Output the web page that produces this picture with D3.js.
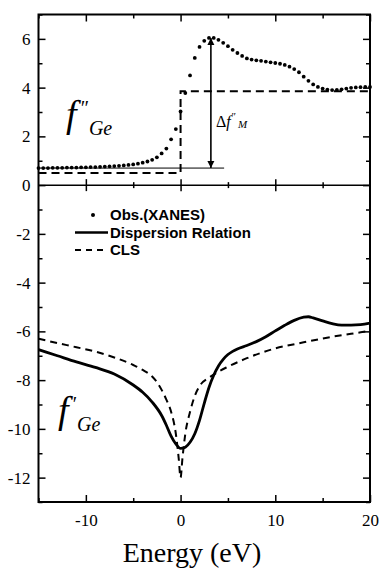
<!DOCTYPE html>
<html>
<head>
<meta charset="utf-8">
<script src="https://cdn.jsdelivr.net/npm/d3@7"></script>
</head>
<body style="margin:0; background:#fff">
<div id="chart"></div>
<script>
// observed f'' (XANES), 0.5 eV steps
obsE = [-15,-14.5,-14,-13.5,-13,-12.5,-12,-11.5,-11,-10.5,-10,-9.5,-9,-8.5,-8,-7.5,-7,-6.5,-6,-5.5,-5,-4.5,-4,-3.5,-3,-2.5,-2,-1.5,-1,-0.5,
        0,0.5,1,1.5,2,2.5,3,3.5,4,4.5,5,5.5,6,6.5,7,7.5,8,8.5,9,9.5,10,10.5,11,11.5,12,12.5,13,13.5,14,14.5,15,15.5,16,16.5,17,17.5,18,18.5,19,19.5,20];
obsF2 = [0.70,0.70,0.70,0.71,0.71,0.71,0.72,0.72,0.72,0.73,0.73,0.74,0.74,0.75,0.76,0.77,0.78,0.79,0.81,0.83,0.85,0.88,0.92,0.97,1.04,1.14,1.30,1.50,1.88,2.30,
         3.02,3.78,4.50,5.22,5.67,5.92,6.04,6.04,5.96,5.84,5.70,5.55,5.42,5.30,5.20,5.15,5.12,5.10,5.07,5.04,5.01,4.98,4.93,4.86,4.76,4.63,4.45,4.28,4.13,4.03,3.96,3.92,3.90,3.91,3.93,3.96,3.99,4.01,4.02,4.03,4.03];

// CLS f'' step
clsF2E = [-15, 0, 0, 20];
clsF2 = [0.5, 0.5, 3.85, 3.85];

// f' from dispersion relation
dispE = [-15,-13,-11,-9,-7,-5,-4,-3,-2,-1.5,-1,-0.5,0,0.5,1,1.5,2,2.5,3,3.5,4,4.5,5,5.5,6,7,8,9,10,11,12,13,13.5,14,15,16,17,18,19,20];
dispF1 = [-6.75,-7.0,-7.25,-7.48,-7.75,-8.2,-8.5,-8.9,-9.45,-9.85,-10.3,-10.62,-10.8,-10.75,-10.55,-10.2,-9.65,-8.95,-8.3,-7.8,-7.42,-7.15,-6.95,-6.82,-6.72,-6.58,-6.42,-6.22,-5.98,-5.75,-5.55,-5.42,-5.4,-5.45,-5.57,-5.68,-5.74,-5.74,-5.72,-5.66];

// f' CLS
clsE = [-15,-13,-11,-9,-7,-5,-4,-3,-2.5,-2,-1.5,-1,-0.5,-0.2,0,0.2,0.5,1,1.5,2,3,4,5,7,10,13,16,18,20];
clsF1 = [-6.3,-6.48,-6.65,-6.83,-7.07,-7.38,-7.58,-7.85,-8.08,-8.4,-8.8,-9.3,-10.2,-11.2,-12.0,-11.2,-10.2,-9.3,-8.65,-8.25,-7.9,-7.65,-7.45,-7.1,-6.7,-6.45,-6.22,-6.1,-5.98];

xMajor = [-10, 0, 10, 20];
xMinor = [-15, -5, 5, 15];
yMajor = [6, 4, 2, 0, -2, -4, -6, -8, -10, -12];
yMinor = [7, 5, 3, 1, -1, -3, -5, -7, -9, -11, -13];

deltaE = 3.2;       // position of the Δf''M arrow
deltaTop = 6.04;
deltaBase = 0.7;
baseEnd = 4.6;

legendItems = ["Obs.(XANES)", "Dispersion Relation", "CLS"];

width = 383;
height = 568;
SERIF = "Liberation Serif";
SANS = "Liberation Sans";

x = d3.scaleLinear().domain([-15, 20]).range([38.5, 370]);
y = d3.scaleLinear().domain([-13, 7]).range([502, 14.5]);

svg = d3.select("#chart").append("svg")
  .attr("width", width)
  .attr("height", height);

svg.append("defs").append("marker")
  .attr("id", "ah")
  .attr("viewBox", "0 0 10 10")
  .attr("refX", 10).attr("refY", 5)
  .attr("markerWidth", 7).attr("markerHeight", 8)
  .attr("markerUnits", "userSpaceOnUse")
  .attr("orient", "auto-start-reverse")
  .append("path")
  .attr("d", "M0,0 L10,5 L0,10 Z")
  .attr("fill", "#000");

// ---- axes (ticks inside on all four sides)
function tickAxis(axis, pos, size, labels) {
  const g = svg.append("g").attr("transform", pos)
    .call(axis.tickSize(size).tickFormat(labels ? (d => String(d)) : ""));
  g.select(".domain").remove();
  g.selectAll("line").attr("stroke", "#000").attr("stroke-width", 1.5);
  g.selectAll("text")
    .style("font-family", SERIF)
    .style("font-size", "17px")
    .attr("fill", "#000");
  return g;
}

tickAxis(d3.axisBottom(x).tickValues(xMajor).tickPadding(12), `translate(0,${y(-13)})`, -7, true);
tickAxis(d3.axisBottom(x).tickValues(xMinor), `translate(0,${y(-13)})`, -4, false);
tickAxis(d3.axisTop(x).tickValues(xMajor), `translate(0,${y(7)})`, -7, false);
tickAxis(d3.axisTop(x).tickValues(xMinor), `translate(0,${y(7)})`, -4, false);
tickAxis(d3.axisLeft(y).tickValues(yMajor).tickPadding(8), `translate(${x(-15)},0)`, -7, true);
tickAxis(d3.axisLeft(y).tickValues(yMinor), `translate(${x(-15)},0)`, -4, false);
tickAxis(d3.axisRight(y).tickValues(yMajor), `translate(${x(20)},0)`, -7, false);
tickAxis(d3.axisRight(y).tickValues(yMinor), `translate(${x(20)},0)`, -4, false);

// ticks crossing the zero line
tickAxis(d3.axisBottom(x).tickValues(xMajor.slice(0, 3)), `translate(0,${y(0)})`, 6, false);
tickAxis(d3.axisTop(x).tickValues(xMajor.slice(0, 3)), `translate(0,${y(0)})`, 6, false);
tickAxis(d3.axisBottom(x).tickValues(xMinor.slice(1)), `translate(0,${y(0)})`, 3, false);
tickAxis(d3.axisTop(x).tickValues(xMinor.slice(1)), `translate(0,${y(0)})`, 3, false);

// frame and separator
svg.append("rect")
  .attr("x", x(-15)).attr("y", y(7))
  .attr("width", x(20) - x(-15)).attr("height", y(-13) - y(7))
  .attr("fill", "none").attr("stroke", "#000").attr("stroke-width", 2);

svg.append("line")
  .attr("x1", x(-15)).attr("x2", x(20))
  .attr("y1", y(0)).attr("y2", y(0))
  .attr("stroke", "#000").attr("stroke-width", 1.5);

// ---- top panel: f''
line = d3.line().x(d => x(d[0])).y(d => y(d[1]));
smooth = d3.line().x(d => x(d[0])).y(d => y(d[1])).curve(d3.curveMonotoneX);

svg.append("path")
  .datum(d3.zip(clsF2E, clsF2))
  .attr("d", line)
  .attr("fill", "none").attr("stroke", "#000")
  .attr("stroke-width", 2).attr("stroke-dasharray", "8,5");

svg.append("line")
  .attr("x1", x(-15)).attr("x2", x(baseEnd))
  .attr("y1", y(deltaBase)).attr("y2", y(deltaBase))
  .attr("stroke", "#000").attr("stroke-width", 1);

svg.append("line")
  .attr("x1", x(deltaE)).attr("x2", x(deltaE))
  .attr("y1", y(deltaBase)).attr("y2", y(deltaTop))
  .attr("stroke", "#000").attr("stroke-width", 1.6)
  .attr("marker-start", "url(#ah)")
  .attr("marker-end", "url(#ah)");

svg.append("g").selectAll("circle")
  .data(d3.zip(obsE, obsF2))
  .join("circle")
  .attr("cx", d => x(d[0]))
  .attr("cy", d => y(d[1]))
  .attr("r", 1.9)
  .attr("fill", "#000");

// ---- bottom panel: f'
svg.append("path")
  .datum(d3.zip(clsE, clsF1))
  .attr("d", smooth)
  .attr("fill", "none").attr("stroke", "#000")
  .attr("stroke-width", 2).attr("stroke-dasharray", "7,5");

svg.append("path")
  .datum(d3.zip(dispE, dispF1))
  .attr("d", smooth)
  .attr("fill", "none").attr("stroke", "#000")
  .attr("stroke-width", 2.8);

// ---- legend
legend = svg.append("g").attr("transform", "translate(75,215)");
legendItems.forEach(function(name, i) {
  const row = legend.append("g").attr("transform", `translate(0,${i * 17.5})`);
  if (i === 0) {
    row.append("circle").attr("cx", 18).attr("cy", 0).attr("r", 2).attr("fill", "#000");
  } else {
    row.append("line")
      .attr("x1", 0).attr("x2", 33).attr("y1", 0).attr("y2", 0)
      .attr("stroke", "#000")
      .attr("stroke-width", i === 1 ? 2.5 : 2)
      .attr("stroke-dasharray", i === 1 ? null : "6,5");
  }
  row.append("text")
    .attr("x", 35).attr("y", 0)
    .attr("dy", "0.36em")
    .style("font-family", SANS)
    .style("font-size", "15px")
    .style("font-weight", "bold")
    .text(name);
});

// ---- labels
function fLabel(px, py, primes) {
  const t = svg.append("text")
    .attr("x", px).attr("y", py)
    .style("font-family", SERIF)
    .style("font-style", "italic");
  t.append("tspan").style("font-size", "38px").text("f");
  t.append("tspan").style("font-size", "20px").attr("dy", -12).attr("dx", 3).text(primes);
  t.append("tspan").style("font-size", "20px").attr("dy", 20).attr("dx", 1).text("Ge");
}
fLabel(66, 127, "\u2033");
fLabel(58, 423, "\u2032");

svg.append("text")
  .attr("x", 216).attr("y", 127)
  .style("font-family", SERIF)
  .style("font-style", "italic")
  .style("font-size", "16px")
  .call(t => {
    t.append("tspan").style("font-style", "normal").text("\u0394");
    t.append("tspan").text("f");
    t.append("tspan").style("font-size", "11px").attr("dy", -7).text("\u2033");
    t.append("tspan").style("font-size", "11px").attr("dy", 8).text(" M");
  });

svg.append("text")
  .attr("x", 192).attr("y", 562)
  .attr("text-anchor", "middle")
  .style("font-family", SERIF)
  .style("font-size", "28px")
  .text("Energy (eV)");
</script>
</body>
</html>
